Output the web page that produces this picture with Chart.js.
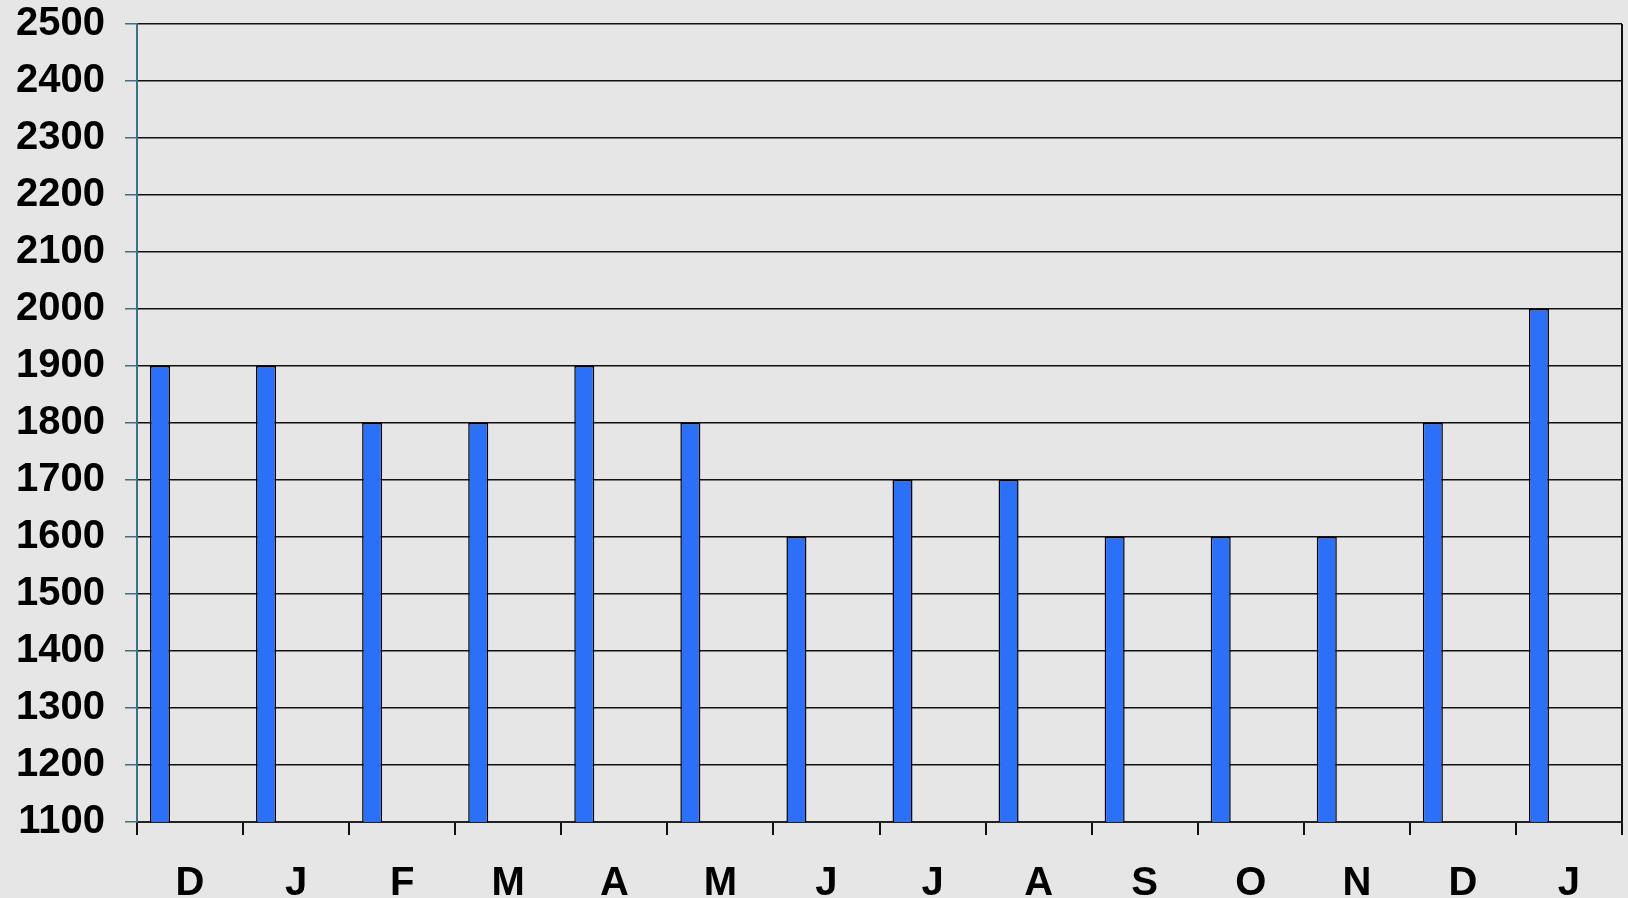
<!DOCTYPE html>
<html>
<head>
<meta charset="utf-8">
<script src="https://cdn.jsdelivr.net/npm/chart.js@4/dist/chart.umd.min.js"></script>
<style>
  html, body { margin: 0; padding: 0; background: #e6e6e6; }
  #wrap { width: 1628px; height: 898px; position: relative; }
</style>
</head>
<body>
<div id="wrap"><canvas id="c" width="1628" height="898"></canvas></div>
<script>
// ---- data ----
const categories = ['D', 'J', 'F', 'M', 'A', 'M', 'J', 'J', 'A', 'S', 'O', 'N', 'D', 'J'];
const seriesValues = [1900, 1900, 1800, 1800, 1900, 1800, 1600, 1700, 1700, 1600, 1600, 1600, 1800, 2000];
// empty series slots of the original grouped chart (no data)
const emptySeries = [null, null, null, null, null, null, null, null, null, null, null, null, null, null];
const yMin = 1100;
const yMax = 2500;
const yStep = 100;

const bgPlugin = {
  id: 'bg',
  beforeDraw(chart) {
    const ctx = chart.ctx;
    ctx.save();
    ctx.fillStyle = '#e6e6e6';
    ctx.fillRect(0, 0, chart.width, chart.height);
    ctx.restore();
  },
  afterDraw(chart) {
    const ctx = chart.ctx;
    const a = chart.chartArea;
    ctx.save();
    ctx.strokeStyle = '#111111';
    ctx.lineWidth = 2;
    ctx.beginPath();
    ctx.moveTo(a.right, a.top);
    ctx.lineTo(a.right, a.bottom);
    ctx.stroke();
    ctx.restore();
  }
};

const font = { family: '"Liberation Sans", Arial, sans-serif', size: 40, weight: 'bold', lineHeight: 1.2 };

new Chart(document.getElementById('c'), {
  type: 'bar',
  data: {
    labels: categories,
    datasets: [
      { data: seriesValues, backgroundColor: '#2b70f7', borderColor: '#000000', borderWidth: 1.5 },
      { data: emptySeries },
      { data: emptySeries },
      { data: emptySeries }
    ]
  },
  options: {
    responsive: false,
    animation: false,
    devicePixelRatio: 1,
    layout: { padding: { top: 24, right: 6, left: 0, bottom: 0 } },
    datasets: { bar: { categoryPercentage: 0.755, barPercentage: 1.0 } },
    plugins: { legend: { display: false }, tooltip: { enabled: false } },
    scales: {
      x: {
        grid: { display: true, drawOnChartArea: false, offset: true, color: '#111111', tickColor: '#111111', tickLength: 13, lineWidth: 2 },
        border: { display: true, color: '#222222', width: 2 },
        ticks: { color: '#000000', font: font, padding: 25, maxRotation: 0, autoSkip: false },
        afterFit(s) { s.height = 76; s.paddingLeft = 0; s.paddingRight = 0; }
      },
      y: {
        min: yMin,
        max: yMax,
        grid: { color: '#111111', lineWidth: 1.5, tickColor: '#3d7080', tickLength: 12 },
        border: { display: true, color: '#3d7080', width: 2 },
        ticks: { stepSize: yStep, color: '#000000', font: font, padding: 20, callback: (v) => String(v) },
        afterFit(s) { s.width = 137; s.paddingTop = 0; s.paddingBottom = 0; }
      }
    }
  },
  plugins: [bgPlugin]
});
</script>
</body>
</html>
